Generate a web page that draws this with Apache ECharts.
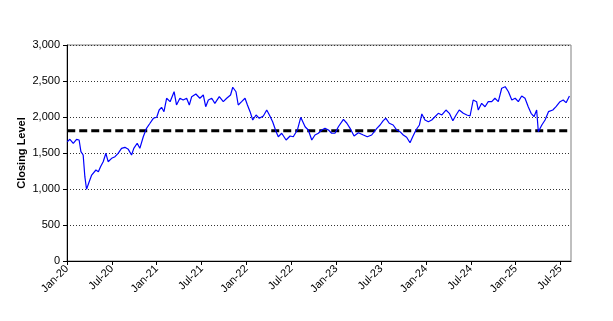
<!DOCTYPE html>
<html>
<head>
<meta charset="utf-8">
<script src="https://cdn.jsdelivr.net/npm/echarts@6/dist/echarts.min.js"></script>
<style>
  html, body { margin: 0; padding: 0; background: #fff; }
  #chart { width: 613px; height: 321px; }
</style>
</head>
<body>
<div id="chart"></div>
<script>
// closing level, about every two weeks
const dates = [
  '2020-01-02','2020-01-13','2020-01-27','2020-02-09','2020-02-19','2020-02-26','2020-03-06','2020-03-13','2020-03-20','2020-03-31',
  '2020-04-10','2020-04-16','2020-04-27','2020-05-07','2020-05-16','2020-05-27','2020-06-07','2020-06-16','2020-06-30','2020-07-14',
  '2020-07-27','2020-08-10','2020-08-24','2020-09-07','2020-09-20','2020-09-29','2020-10-13','2020-10-24','2020-11-07','2020-11-20',
  '2020-12-04','2020-12-18','2021-01-01','2021-01-11','2021-01-21','2021-01-31','2021-02-10','2021-02-23','2021-03-11','2021-03-21',
  '2021-04-04','2021-04-17','2021-05-01','2021-05-12','2021-05-22','2021-06-08','2021-06-24','2021-07-08','2021-07-18','2021-07-29',
  '2021-08-12','2021-08-25','2021-09-12','2021-09-28','2021-10-12','2021-10-28','2021-11-06','2021-11-19','2021-11-28','2021-12-12',
  '2021-12-26','2022-01-05','2022-01-16','2022-01-27','2022-02-09','2022-02-21','2022-03-09','2022-03-23','2022-04-03','2022-04-16',
  '2022-04-30','2022-05-09','2022-05-23','2022-06-10','2022-06-26','2022-07-09','2022-07-26','2022-08-09','2022-08-27','2022-09-09',
  '2022-09-23','2022-10-06','2022-10-20','2022-11-03','2022-11-16','2022-11-30','2022-12-13','2022-12-27','2023-01-10','2023-01-31',
  '2023-02-13','2023-02-25','2023-03-13','2023-03-31','2023-04-20','2023-05-06','2023-05-24','2023-06-14','2023-06-27','2023-07-10',
  '2023-07-21','2023-08-04','2023-08-20','2023-09-04','2023-09-17','2023-09-30','2023-10-14','2023-10-28','2023-11-08','2023-11-21',
  '2023-12-05','2023-12-15','2023-12-28','2024-01-11','2024-01-25','2024-02-07','2024-02-20','2024-03-05','2024-03-22','2024-04-05',
  '2024-04-19','2024-05-02','2024-05-15','2024-06-01','2024-06-15','2024-06-28','2024-07-11','2024-07-25','2024-08-01','2024-08-15',
  '2024-08-29','2024-09-11','2024-09-25','2024-10-08','2024-10-22','2024-11-05','2024-11-19','2024-12-02','2024-12-16','2024-12-30',
  '2025-01-12','2025-01-26','2025-02-08','2025-02-20','2025-03-03','2025-03-15','2025-03-26','2025-04-02','2025-04-06','2025-04-16',
  '2025-04-29','2025-05-13','2025-05-31','2025-06-13','2025-06-29','2025-07-12','2025-07-24','2025-08-07'
];
const closingLevel = [
  1657,1690,1635,1690,1681,1518,1472,1171,996,1101,
  1194,1171,1264,1240,1310,1379,1496,1379,1426,1449,
  1496,1565,1579,1551,1472,1565,1635,1565,1726,1843,
  1913,1982,1996,2097,2135,2074,2260,2213,2351,2167,
  2260,2236,2260,2167,2282,2319,2260,2306,2143,2236,
  2260,2190,2282,2213,2260,2306,2413,2351,2167,2213,
  2260,2167,2074,1958,2028,1982,2014,2097,2028,1935,
  1796,1726,1774,1681,1736,1726,1819,1996,1865,1819,
  1681,1750,1774,1819,1843,1819,1774,1774,1865,1968,
  1913,1843,1736,1782,1750,1726,1750,1843,1889,1949,
  1982,1913,1889,1819,1796,1750,1718,1643,1726,1819,
  1889,2042,1958,1935,1958,2004,2051,2028,2097,2051,
  1949,2028,2097,2051,2028,2014,2236,2213,2097,2190,
  2143,2213,2213,2260,2213,2399,2421,2351,2236,2260,
  2213,2292,2260,2143,2051,2004,2097,1796,1774,1889,
  1958,2074,2097,2143,2213,2236,2199,2292
];
const avgLevel = 1810;
const tickMonths = [0, 6, 12, 18, 24, 30, 36, 42, 48, 54, 60, 66];
const monthNames = ['Jan','Feb','Mar','Apr','May','Jun','Jul','Aug','Sep','Oct','Nov','Dec'];

// months since Jan 2020, fractional
function monthIndex(s) {
  const [y, m, d] = s.split('-').map(Number);
  const dim = new Date(y, m, 0).getDate();
  return (y - 2020) * 12 + (m - 1) + (d - 1) / dim;
}

const lineData = dates.map((d, i) => [monthIndex(d), closingLevel[i]]);
const avgData = dates.map(d => [monthIndex(d), avgLevel]);

const font = 'Liberation Sans, Arial, sans-serif';
const chart = echarts.init(document.getElementById('chart'), null, { renderer: 'canvas' });

const options = {
  animation: false,
  grid: {
    left: 67, top: 45, right: 42, bottom: 60,
    show: true,
    borderColor: '#808080',
    borderWidth: 1
  },
  xAxis: {
    type: 'value',
    min: 0,
    max: 67.4,
    interval: 6,
    axisLine: { show: true, onZero: false, lineStyle: { color: '#000', width: 1 } },
    axisTick: { show: true, length: 4, customValues: tickMonths, lineStyle: { color: '#000' } },
    splitLine: { show: false },
    axisLabel: {
      customValues: tickMonths,
      rotate: 45,
      margin: 6,
      fontFamily: font,
      fontSize: 11,
      color: '#000',
      formatter: v => monthNames[Math.round(v) % 12] + '-' + (20 + Math.floor(Math.round(v) / 12))
    }
  },
  yAxis: {
    type: 'value',
    min: 0,
    max: 3000,
    interval: 500,
    name: 'Closing Level',
    nameLocation: 'middle',
    nameGap: 40,
    nameMoveOverlap: false,
    nameTextStyle: { fontFamily: font, fontSize: 11, fontWeight: 'bold', color: '#000' },
    axisLine: { show: true, lineStyle: { color: '#000', width: 1 } },
    axisTick: { show: true, length: 4, lineStyle: { color: '#000' } },
    axisLabel: {
      margin: 7,
      fontFamily: font,
      fontSize: 11,
      color: '#000',
      formatter: v => v.toLocaleString('en-US')
    },
    splitLine: { show: true, lineStyle: { color: '#333', type: [1, 2], width: 1 } }
  },
  series: [
    {
      name: 'Average',
      type: 'line',
      data: avgData,
      showSymbol: false,
      lineStyle: { color: '#000', width: 3, type: [8, 4] },
      z: 2
    },
    {
      name: 'Closing Level',
      type: 'line',
      data: lineData,
      showSymbol: false,
      lineStyle: { color: '#0000ff', width: 1.2 },
      z: 3
    }
  ]
};

chart.setOption(options);
</script>
</body>
</html>
